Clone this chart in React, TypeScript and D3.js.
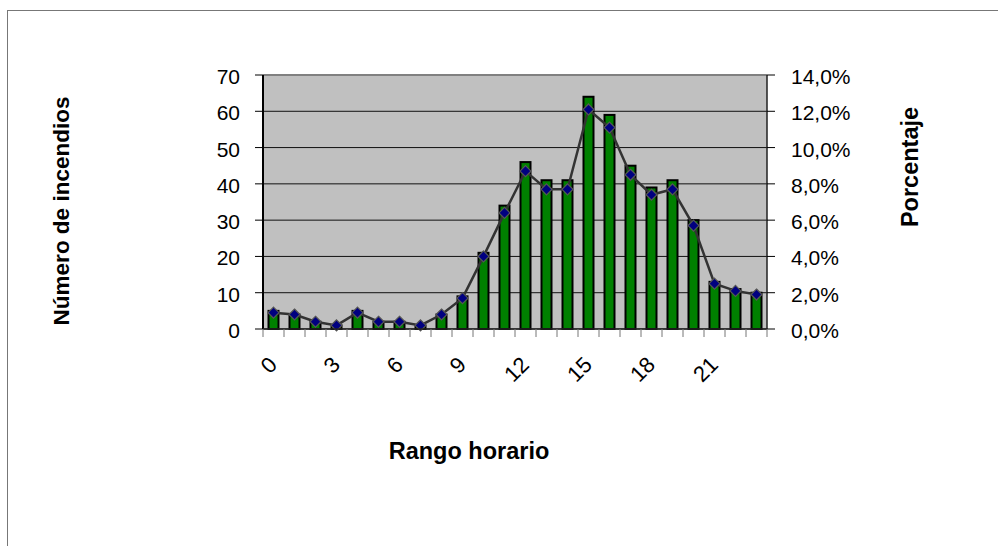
import React from 'react';
import * as d3 from 'd3';

const hours = ['0', '1', '2', '3', '4', '5', '6', '7', '8', '9', '10', '11', '12', '13', '14', '15', '16', '17', '18', '19', '20', '21', '22', '23'];
const counts = [5, 4, 2, 1, 5, 2, 2, 1, 4, 9, 21, 34, 46, 41, 41, 64, 59, 45, 39, 41, 30, 13, 11, 10];
const percents = [0.9, 0.8, 0.4, 0.2, 0.9, 0.4, 0.4, 0.2, 0.8, 1.7, 4.0, 6.4, 8.7, 7.7, 7.7, 12.1, 11.1, 8.5, 7.4, 7.7, 5.7, 2.5, 2.1, 1.9];
const countTicks = [0, 10, 20, 30, 40, 50, 60, 70];
const percentTicks = [0, 2, 4, 6, 8, 10, 12, 14];
const labelledHours = ['0', '3', '6', '9', '12', '15', '18', '21'];

const W = 998;
const H = 546;
const left = 263;
const right = 767;
const top = 75;
const bottom = 329;
const barW = 10;
const font = '"Liberation Sans", Arial, sans-serif';

function App() {
	const x = d3.scaleBand<string>().domain(hours).range([left, right]);
	const yL = d3.scaleLinear().domain([0, 70]).range([bottom, top]);
	const yR = d3.scaleLinear().domain([0, 14]).range([bottom, top]);
	const cx = (h: string) => (x(h) as number) + x.bandwidth() / 2;

	const line = d3.line<number>()
		.x((_, i) => cx(hours[i]))
		.y((d) => yR(d));

	const fmt = (v: number) => v.toFixed(1).replace('.', ',') + '%';

	return (
		<div style={{ position: 'fixed', left: 0, top: 0 }}>
			<svg width={W} height={H} style={{ display: 'block', background: '#fff' }}>
				{/* outer frame */}
				<rect x={7.5} y={10.5} width={W + 20} height={H + 20} fill="none" stroke="#777" strokeWidth={1} />

				{/* plot area */}
				<rect x={left} y={top} width={right - left} height={bottom - top} fill="#c0c0c0" />
				{countTicks.map((t) => (
					<line key={'g' + t} x1={left} x2={right} y1={yL(t)} y2={yL(t)} stroke="#111" strokeWidth={1} />
				))}
				<line x1={left} x2={right} y1={top} y2={top} stroke="#808080" strokeWidth={2} />

				{/* bars */}
				{counts.map((c, i) => (
					<rect key={'b' + i} x={cx(hours[i]) - barW / 2} y={yL(c)} width={barW} height={bottom - yL(c)}
						fill="#008000" stroke="#000" strokeWidth={2} />
				))}

				{/* percentage line */}
				<path d={line(percents) || ''} fill="none" stroke="#333" strokeWidth={2.5} />
				{percents.map((p, i) => {
					const px = cx(hours[i]);
					const py = yR(p);
					const r = 5.5;
					return (
						<path key={'d' + i} d={`M${px},${py - r}L${px + r},${py}L${px},${py + r}L${px - r},${py}Z`}
							fill="#000080" stroke="#555" strokeWidth={1.2} />
					);
				})}

				{/* axes */}
				<line x1={left} x2={left} y1={top} y2={bottom} stroke="#000" strokeWidth={2} />
				<line x1={right} x2={right} y1={top} y2={bottom} stroke="#222" strokeWidth={1.5} />
				<line x1={left} x2={right} y1={bottom} y2={bottom} stroke="#222" strokeWidth={1.5} />
				{countTicks.map((t) => (
					<g key={'l' + t}>
						<line x1={left - 8} x2={left} y1={yL(t)} y2={yL(t)} stroke="#000" strokeWidth={1} />
						<text x={240} y={yL(t) + 9} textAnchor="end" fontFamily={font} fontSize={21} fill="#000">{t}</text>
					</g>
				))}
				{percentTicks.map((t) => (
					<g key={'r' + t}>
						<line x1={right} x2={right + 8} y1={yR(t)} y2={yR(t)} stroke="#000" strokeWidth={1} />
						<text x={791} y={yR(t) + 9} textAnchor="start" fontFamily={font} fontSize={21} fill="#000">{fmt(t)}</text>
					</g>
				))}
				{hours.concat(['end']).map((h, i) => {
					const tx = left + i * x.bandwidth();
					return <line key={'t' + i} x1={tx} x2={tx} y1={bottom} y2={bottom + 8} stroke="#777" strokeWidth={1} />;
				})}
				{labelledHours.map((h) => {
					const ax = cx(h) + 5;
					const ay = 366;
					return (
						<text key={'x' + h} x={ax} y={ay} textAnchor="end" transform={`rotate(-45 ${ax} ${ay})`}
							fontFamily={font} fontSize={22} fill="#000">{h}</text>
					);
				})}

				{/* titles */}
				<text x={469} y={459} textAnchor="middle" fontFamily={font} fontSize={23.5} fontWeight="bold">Rango horario</text>
				<text transform="translate(69 211) rotate(-90)" textAnchor="middle" fontFamily={font} fontSize={22.5} fontWeight="bold">Número de incendios</text>
				<text transform="translate(918 167) rotate(-90)" textAnchor="middle" fontFamily={font} fontSize={23.5} fontWeight="bold">Porcentaje</text>
			</svg>
		</div>
	);
}

export default App;
